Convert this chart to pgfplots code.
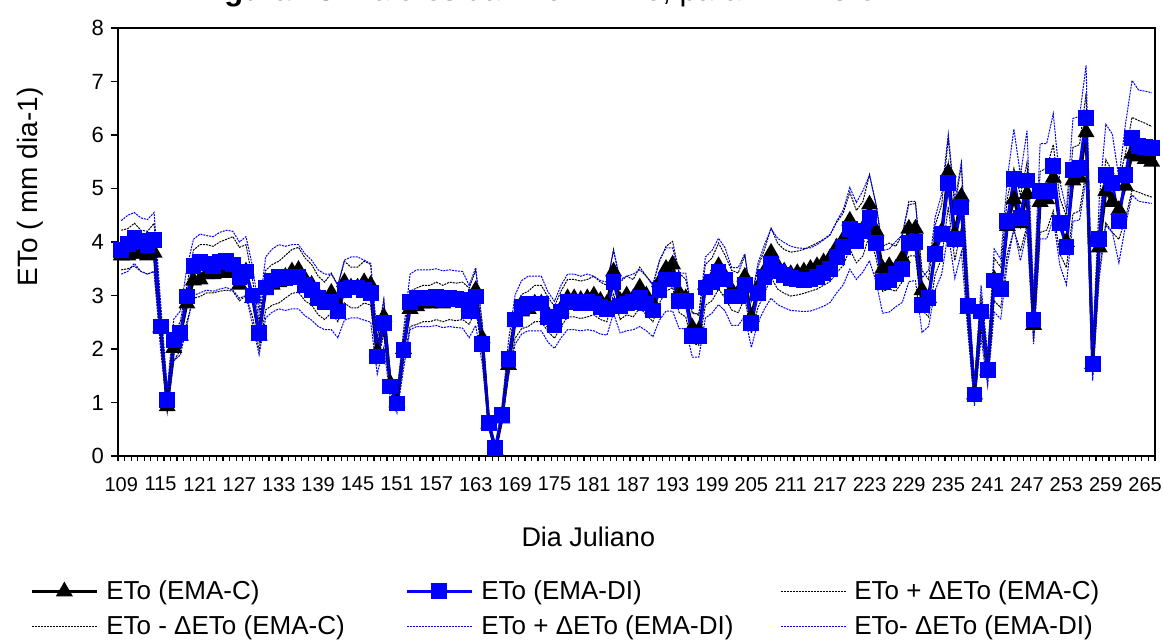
\documentclass[border=0pt]{standalone}
\usepackage{fontspec}
\setmainfont{Liberation Sans}
\usepackage{pgfplots}
\pgfplotsset{compat=1.18}
\usepackage{pgfplotstable}

\pgfplotstableread{
day C DI Cp Cm Dp Dm
109 3.75 3.85 4.22 3.48 4.40 3.40
110 3.75 3.97 4.25 3.50 4.50 3.45
111 3.78 4.08 4.35 3.55 4.55 3.60
112 3.78 4.02 4.22 3.45 4.45 3.45
113 3.75 3.95 4.20 3.40 4.42 3.40
114 3.80 4.03 4.35 3.45 4.55 3.45
115 2.40 2.42 2.69 2.11 2.86 1.98
116 0.93 1.05 1.04 0.82 1.24 0.86
117 2.02 2.17 2.26 1.78 2.56 1.78
118 2.25 2.30 2.52 1.98 2.71 1.89
119 2.85 2.98 3.19 2.51 3.52 2.44
120 3.28 3.55 3.85 2.95 4.05 3.00
121 3.30 3.62 3.95 2.98 4.15 3.05
122 3.40 3.60 3.95 3.05 4.12 3.10
123 3.40 3.55 3.92 3.05 4.10 3.08
124 3.42 3.62 4.00 3.08 4.18 3.12
125 3.42 3.65 4.05 3.10 4.22 3.15
126 3.45 3.58 4.10 3.08 4.20 3.10
127 3.20 3.35 3.90 2.90 4.00 2.95
128 3.45 3.45 3.95 3.00 4.10 3.00
129 2.95 3.00 3.30 2.60 3.54 2.46
130 2.25 2.30 2.52 1.98 2.71 1.89
131 3.10 3.15 3.47 2.73 3.72 2.58
132 3.20 3.28 3.58 2.82 3.87 2.69
133 3.25 3.35 3.64 2.86 3.95 2.75
134 3.35 3.32 3.75 2.95 3.92 2.72
135 3.45 3.35 3.86 3.04 3.95 2.75
136 3.48 3.35 3.90 3.06 3.95 2.75
137 3.30 3.20 3.70 2.90 3.78 2.62
138 3.20 3.10 3.58 2.82 3.66 2.54
139 3.00 2.95 3.36 2.64 3.48 2.42
140 2.90 2.88 3.25 2.55 3.40 2.36
141 3.05 2.88 3.42 2.68 3.40 2.36
142 2.85 2.70 3.19 2.51 3.19 2.21
143 3.25 3.10 3.64 2.86 3.66 2.54
144 3.15 3.15 3.53 2.77 3.72 2.58
145 3.15 3.15 3.53 2.77 3.72 2.58
146 3.25 3.10 3.64 2.86 3.66 2.54
147 3.20 3.05 3.58 2.82 3.60 2.50
148 1.95 1.86 2.18 1.72 2.19 1.53
149 2.60 2.48 2.91 2.29 2.93 2.03
150 1.35 1.30 1.51 1.19 1.53 1.07
151 1.00 0.98 1.12 0.88 1.16 0.80
152 2.00 1.98 2.24 1.76 2.34 1.62
153 2.75 2.88 3.08 2.42 3.40 2.36
154 2.80 2.95 3.14 2.46 3.48 2.42
155 2.85 2.95 3.19 2.51 3.48 2.42
156 2.85 2.95 3.19 2.51 3.48 2.42
157 2.90 2.97 3.25 2.55 3.50 2.44
158 2.85 2.93 3.19 2.51 3.46 2.40
159 2.90 2.95 3.25 2.55 3.48 2.42
160 2.88 2.93 3.23 2.53 3.46 2.40
161 2.90 2.92 3.25 2.55 3.45 2.39
162 2.80 2.70 3.14 2.46 3.19 2.21
163 3.10 2.98 3.47 2.73 3.52 2.44
164 2.20 2.10 2.46 1.94 2.48 1.72
165 0.60 0.62 0.67 0.53 0.73 0.51
166 0.10 0.15 0.11 0.09 0.18 0.12
167 0.70 0.77 0.78 0.62 0.91 0.63
168 1.70 1.82 1.90 1.50 2.15 1.49
169 2.50 2.55 2.80 2.20 3.01 2.09
170 2.70 2.78 3.02 2.38 3.28 2.28
171 2.75 2.85 3.08 2.42 3.36 2.34
172 2.85 2.85 3.19 2.51 3.36 2.34
173 2.85 2.85 3.19 2.51 3.36 2.34
174 2.65 2.60 2.97 2.33 3.07 2.13
175 2.50 2.45 2.80 2.20 2.89 2.01
176 2.75 2.70 3.08 2.42 3.19 2.21
177 2.95 2.88 3.30 2.60 3.40 2.36
178 2.95 2.88 3.30 2.60 3.40 2.36
179 2.92 2.85 3.27 2.57 3.36 2.34
180 2.95 2.88 3.30 2.60 3.40 2.36
181 3.00 2.85 3.36 2.64 3.36 2.34
182 2.90 2.78 3.25 2.55 3.28 2.28
183 2.85 2.75 3.19 2.51 3.25 2.26
184 3.45 3.25 3.86 3.04 3.84 2.67
185 2.90 2.80 3.25 2.55 3.30 2.30
186 3.00 2.85 3.36 2.64 3.36 2.34
187 2.95 2.88 3.30 2.60 3.40 2.36
188 3.15 2.95 3.53 2.77 3.48 2.42
189 3.00 2.85 3.36 2.64 3.36 2.34
190 2.85 2.72 3.19 2.51 3.21 2.23
191 3.25 3.10 3.64 2.86 3.66 2.54
192 3.50 3.30 3.92 3.08 3.89 2.71
193 3.58 3.30 4.01 3.15 3.89 2.71
194 3.05 2.90 3.42 2.68 3.42 2.38
195 2.95 2.90 3.30 2.60 3.42 2.38
196 2.40 2.25 2.69 2.11 2.66 1.85
197 2.35 2.25 2.63 2.07 2.66 1.85
198 3.20 3.15 3.58 2.82 3.72 2.58
199 3.30 3.25 3.70 2.90 3.84 2.67
200 3.55 3.45 3.98 3.12 4.07 2.83
201 3.35 3.30 3.75 2.95 3.89 2.71
202 3.10 2.98 3.47 2.73 3.52 2.44
203 3.05 2.98 3.42 2.68 3.52 2.44
204 3.35 3.20 3.75 2.95 3.78 2.62
205 2.60 2.48 2.91 2.29 2.93 2.03
206 3.15 3.05 3.53 2.77 3.60 2.50
207 3.45 3.35 3.86 3.04 3.95 2.75
208 3.80 3.60 4.26 3.34 4.25 2.95
209 3.55 3.45 3.98 3.12 4.07 2.83
210 3.45 3.38 3.86 3.04 3.99 2.77
211 3.40 3.32 3.81 2.99 3.92 2.72
212 3.42 3.30 3.83 3.01 3.89 2.71
213 3.45 3.29 3.86 3.04 3.88 2.70
214 3.50 3.30 3.92 3.08 3.89 2.71
215 3.55 3.35 3.98 3.12 3.95 2.75
216 3.62 3.42 4.05 3.19 4.04 2.80
217 3.70 3.50 4.14 3.26 4.13 2.87
218 3.90 3.72 4.37 3.43 4.39 3.05
219 4.05 3.90 4.54 3.56 4.60 3.20
220 4.40 4.25 4.93 3.87 5.02 3.49
221 4.10 4.02 4.59 3.61 4.74 3.30
222 4.25 4.20 4.76 3.74 4.96 3.44
223 4.70 4.45 5.26 4.14 5.25 3.65
224 4.20 3.98 4.70 3.70 4.70 3.26
225 3.50 3.25 3.92 3.08 3.84 2.67
226 3.55 3.28 3.98 3.12 3.87 2.69
227 3.50 3.40 3.92 3.08 4.01 2.79
228 3.70 3.50 4.14 3.26 4.13 2.87
229 4.25 3.98 4.76 3.74 4.70 3.26
230 4.25 4.00 4.76 3.74 4.72 3.28
231 3.10 2.82 3.47 2.73 3.33 2.31
232 2.95 2.95 3.30 2.60 3.48 2.42
233 3.85 3.78 4.31 3.39 4.46 3.10
234 4.20 4.15 4.70 3.70 4.90 3.40
235 5.30 5.10 5.94 4.66 6.02 4.18
236 4.15 4.05 4.65 3.65 4.78 3.32
237 4.85 4.65 5.43 4.27 5.49 3.81
238 2.75 2.80 3.08 2.42 3.30 2.30
239 1.15 1.15 1.29 1.01 1.36 0.94
240 2.70 2.70 3.02 2.38 3.19 2.21
241 1.60 1.60 1.79 1.41 1.89 1.31
242 3.30 3.28 3.70 2.90 3.87 2.69
243 3.15 3.12 3.53 2.77 3.68 2.56
244 4.30 4.40 4.82 3.78 5.19 3.61
245 4.80 5.18 5.38 4.22 6.11 4.25
246 4.35 4.45 4.87 3.83 5.25 3.65
247 4.90 5.15 5.49 4.31 6.08 4.22
248 2.45 2.55 2.74 2.16 3.01 2.09
249 4.75 4.95 5.32 4.18 5.84 4.06
250 4.80 4.95 5.38 4.22 5.84 4.06
251 5.20 5.42 5.82 4.58 6.40 4.44
252 4.30 4.35 4.82 3.78 5.13 3.57
253 4.00 3.90 4.48 3.52 4.60 3.20
254 5.15 5.35 5.77 4.53 6.31 4.39
255 5.20 5.38 5.82 4.58 6.35 4.41
256 6.05 6.32 6.78 5.32 7.30 5.18
257 1.72 1.72 1.93 1.51 2.03 1.41
258 3.90 4.05 4.37 3.43 4.78 3.32
259 4.95 5.25 5.54 4.36 6.20 4.31
260 4.75 5.10 5.32 4.18 6.02 4.18
261 4.60 4.40 5.15 4.05 5.19 3.61
262 5.05 5.25 5.66 4.44 6.20 4.31
263 5.65 5.95 6.33 4.97 7.02 4.88
264 5.60 5.80 6.27 4.93 6.84 4.76
265 5.55 5.78 6.22 4.88 6.82 4.74
266 5.50 5.75 6.16 4.84 6.79 4.72
}\datatable

\begin{document}
\begin{tikzpicture}
\begin{axis}[
  at={(0pt,0pt)}, anchor=south west,
  scale only axis, width=518.5pt, height=214pt,
  xmin=108.5, xmax=266.5, ymin=0, ymax=8,
  axis line style={line width=1pt},
  xtick={109,115,...,265},
  minor xtick={108.5,109.5,...,266.5},
  ytick={0,1,...,8},
  tick pos=left,
  tick align=outside,
  major tick length=3.5pt,
  minor tick length=2.5pt,
  major x tick style={draw=none},
  every tick/.style={black, line width=0.6pt},
  /pgf/number format/assume math mode=true,
  /pgf/number format/1000 sep={},
  xticklabel style={font=\fontsize{10}{12}\selectfont, yshift=-3.5pt},
  yticklabel style={font=\fontsize{11}{13}\selectfont},
  xlabel={Dia Juliano},
  ylabel={ETo ( mm dia-1)},
  every axis x label/.style={at={(axis description cs:0.4535,-0.189)}, anchor=center, font=\fontsize{13.5}{16}\selectfont},
  every axis y label/.style={at={(axis description cs:-0.0849,0.6285)}, rotate=90, anchor=center, font=\fontsize{14}{16}\selectfont},
  title={\textbf{Figura 23.} Valores da ETo ±ΔETo, para EMA-C e EMA-DI},
  title style={at={(axis description cs:0.46,1)}, anchor=base, yshift=8pt, font=\fontsize{15.5}{18}\selectfont},
  legend columns=3,
  legend cell align=left,
  legend image code/.code={\draw[mark repeat=2,mark phase=2,#1] plot coordinates {(0pt,0pt) (16.25pt,0pt) (32.5pt,0pt)};},
  legend style={at={(axis description cs:-0.0849,-0.357)}, anchor=west, draw=none, fill=none, inner sep=0pt,
    font=\fontsize{13}{15}\selectfont, nodes={inner xsep=4pt, inner ysep=0pt}, row sep=6.5pt},
]
\addplot[black, line width=1.5pt, mark=triangle*, mark size=3.4pt, mark options={solid, fill=black}] table[x=day, y=C] {\datatable};
\addlegendentry{\makebox[145.5pt][l]{ETo (EMA-C)}}
\addplot[blue, line width=1.5pt, mark=square*, mark size=3.2pt, mark options={solid, fill=blue}] table[x=day, y=DI] {\datatable};
\addlegendentry{\makebox[145.5pt][l]{ETo (EMA-DI)}}
\addplot[black, line width=0.5pt, dash pattern=on 1pt off 0.5pt] table[x=day, y=Cp] {\datatable};
\addlegendentry{ETo + ΔETo (EMA-C)}
\addplot[black, line width=0.5pt, dash pattern=on 1pt off 0.5pt] table[x=day, y=Cm] {\datatable};
\addlegendentry{\makebox[145.5pt][l]{ETo - ΔETo (EMA-C)}}
\addplot[blue, line width=0.5pt, dash pattern=on 1pt off 0.5pt] table[x=day, y=Dp] {\datatable};
\addlegendentry{\makebox[145.5pt][l]{ETo + ΔETo (EMA-DI)}}
\addplot[blue, line width=0.5pt, dash pattern=on 1pt off 0.5pt] table[x=day, y=Dm] {\datatable};
\addlegendentry{ETo- ΔETo (EMA-DI)}
\end{axis}
\pgfresetboundingbox
\useasboundingbox (-59pt,-92pt) rectangle (522.5pt,228pt);
\end{tikzpicture}
\end{document}
